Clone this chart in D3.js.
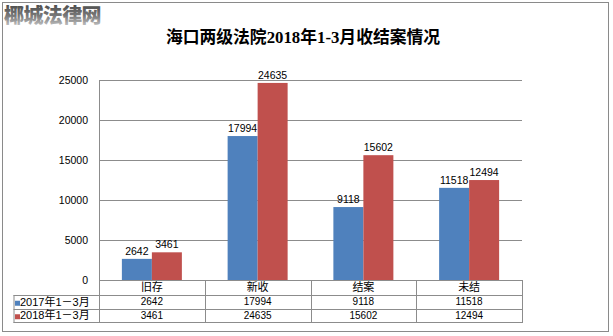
<!DOCTYPE html>
<html>
<head>
<meta charset="utf-8">
<script src="https://cdn.jsdelivr.net/npm/d3@7"></script>
<style>
  html, body { margin: 0; padding: 0; background: #fff; }
  svg { display: block; }
</style>
</head>
<body>
<svg id="chart" width="613" height="336"></svg>
<script>
// Case statistics, Q1 2017 vs Q1 2018
const categories = ["旧存", "新收", "结案", "未结"];
const seriesNames = ["2017年1－3月", "2018年1－3月"];
const values2017 = [2642, 17994, 9118, 11518];
const values2018 = [3461, 24635, 15602, 12494];
const yTicks = [0, 5000, 10000, 15000, 20000, 25000];
const colors = ["#4f81bd", "#c0504d"];

const chartTitle = "海口两级法院2018年1-3月收结案情况";
const siteName = "椰城法律网";

const series = [values2017, values2018];

const svg = d3.select("#chart");

// plot frame
const plotLeft = 99, plotRight = 522, plotTop = 80, plotBottom = 280;
const rowH = [15, 13.5, 13.5];
const tableLeft = 13.5;

const y = d3.scaleLinear().domain([0, 25000]).range([plotBottom, plotTop]);
const x = d3.scaleBand().domain(categories).range([plotLeft, plotRight]).paddingInner(0).paddingOuter(0);
const bw = x.bandwidth();
const barW = 30;
const xs = d3.scaleBand().domain(seriesNames)
  .range([(bw - 2 * barW) / 2, (bw + 2 * barW) / 2]).padding(0);

const numFont = "'Liberation Sans', Arial, sans-serif";
const cjkFont = "'Noto Sans CJK SC', sans-serif";
const mixedFont = "'Liberation Sans', 'Noto Sans CJK SC', sans-serif";
const lineColor = "#8c8c8c";

// outer border
svg.append("rect")
  .attr("x", 2.5).attr("y", 2.5)
  .attr("width", 606).attr("height", 329)
  .attr("fill", "#fff").attr("stroke", "#8a8a8a").attr("stroke-width", 1);

// site name with gradient fill
const defs = svg.append("defs");
const grad = defs.append("linearGradient").attr("id", "siteGrad")
  .attr("x1", 0).attr("y1", 0).attr("x2", 0).attr("y2", 1);
grad.append("stop").attr("offset", "0%").attr("stop-color", "#3a3a3a");
grad.append("stop").attr("offset", "55%").attr("stop-color", "#7a7a7a");
grad.append("stop").attr("offset", "100%").attr("stop-color", "#d8d8d8");
svg.append("text")
  .attr("x", 4).attr("y", 23)
  .attr("font-family", cjkFont).attr("font-weight", 900)
  .attr("font-size", 20).attr("letter-spacing", -0.6)
  .attr("fill", "url(#siteGrad)")
  .text(siteName);

// title
svg.append("text")
  .attr("x", 303).attr("y", 43)
  .attr("text-anchor", "middle")
  .attr("font-family", "'Liberation Serif', 'Noto Sans CJK SC', serif")
  .attr("font-weight", "bold").attr("font-size", 16.8)
  .attr("fill", "#000")
  .text(chartTitle);

// gridlines
const g = svg.append("g");
g.selectAll("line.grid").data(yTicks).join("line")
  .attr("class", "grid")
  .attr("x1", plotLeft).attr("x2", plotRight)
  .attr("y1", d => Math.round(y(d)) + 0.5).attr("y2", d => Math.round(y(d)) + 0.5)
  .attr("stroke", lineColor).attr("stroke-width", 1);

// y axis line
g.append("line")
  .attr("x1", plotLeft + 0.5).attr("x2", plotLeft + 0.5)
  .attr("y1", plotTop).attr("y2", plotBottom)
  .attr("stroke", lineColor);

// y axis labels
const yAxis = d3.axisLeft(y).tickValues(yTicks).tickSize(0).tickPadding(11).tickFormat(d3.format("d"));
const ya = svg.append("g").attr("transform", `translate(${plotLeft},0)`).call(yAxis);
ya.select(".domain").remove();
ya.selectAll("text")
  .attr("font-family", numFont).attr("font-size", 10.5).attr("fill", "#000");

// bars
const groups = svg.append("g").selectAll("g.cat").data(categories).join("g")
  .attr("class", "cat")
  .attr("transform", d => `translate(${x(d)},0)`);

const pairs = (d, i) => series.map((s, k) => ({ name: seriesNames[k], v: s[i], k }));

groups.selectAll("rect").data(pairs)
  .join("rect")
  .attr("x", d => xs(d.name))
  .attr("width", xs.bandwidth())
  .attr("y", d => y(d.v))
  .attr("height", d => y(0) - y(d.v))
  .attr("fill", d => colors[d.k]);

groups.selectAll("text.val").data(pairs)
  .join("text")
  .attr("class", "val")
  .attr("x", d => xs(d.name) + xs.bandwidth() / 2)
  .attr("y", d => y(d.v) - 4)
  .attr("text-anchor", "middle")
  .attr("font-family", numFont).attr("font-size", 10.5).attr("fill", "#000")
  .text(d => d.v);

// data table under the plot
const tY0 = plotBottom;
const tY1 = tY0 + rowH[0];
const tY2 = tY1 + rowH[1];
const tY3 = tY2 + rowH[2];
const tbl = svg.append("g").attr("stroke", lineColor).attr("stroke-width", 1).attr("fill", "none");

// horizontal lines
[tY1, tY2, tY3].forEach(yy => {
  tbl.append("line").attr("x1", tableLeft).attr("x2", plotRight)
    .attr("y1", Math.round(yy) + 0.5).attr("y2", Math.round(yy) + 0.5);
});
// vertical lines
tbl.append("line").attr("x1", tableLeft + 0.5).attr("x2", tableLeft + 0.5)
  .attr("y1", Math.round(tY1)).attr("y2", Math.round(tY3) + 1);
const bounds = categories.map(c => x(c)).concat([plotRight]);
tbl.selectAll("line.col").data(bounds).join("line")
  .attr("class", "col")
  .attr("x1", d => Math.round(d) + 0.5).attr("x2", d => Math.round(d) + 0.5)
  .attr("y1", tY0).attr("y2", Math.round(tY3) + 1);

// category header row
svg.append("g").selectAll("text").data(categories).join("text")
  .attr("x", d => x(d) + bw / 2)
  .attr("y", (tY0 + tY1) / 2 + 1)
  .attr("dominant-baseline", "middle")
  .attr("text-anchor", "middle")
  .attr("font-family", mixedFont).attr("font-size", 11).attr("fill", "#000")
  .text(d => d);

// value rows with legend keys
const rowsMid = [(tY1 + tY2) / 2 + 1, (tY2 + tY3) / 2 + 1];
series.forEach((s, k) => {
  const row = svg.append("g");
  row.append("rect")
    .attr("x", 15).attr("y", rowsMid[k] - 2)
    .attr("width", 5).attr("height", 5)
    .attr("fill", colors[k]);
  row.append("text")
    .attr("x", 20).attr("y", rowsMid[k])
    .attr("dominant-baseline", "middle")
    .attr("font-family", mixedFont).attr("font-size", 11).attr("fill", "#000")
    .text(seriesNames[k]);
  row.selectAll("text.cell").data(s).join("text")
    .attr("class", "cell")
    .attr("x", (d, i) => x(categories[i]) + bw / 2)
    .attr("y", rowsMid[k])
    .attr("dominant-baseline", "middle")
    .attr("text-anchor", "middle")
    .attr("font-family", numFont).attr("font-size", 10).attr("fill", "#000")
    .text(d => d);
});
</script>
</body>
</html>
